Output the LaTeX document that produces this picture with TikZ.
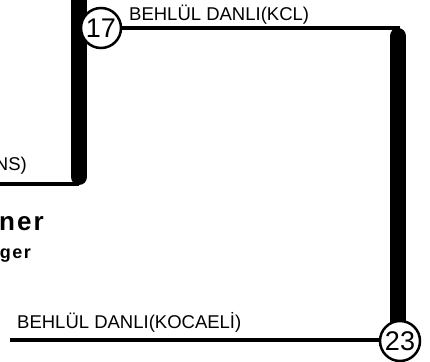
\documentclass[tikz,border=0pt]{standalone}
\usepackage{fontspec}
\setmainfont{Liberation Sans}
\newfontfamily\brandfont[LetterSpace=8]{Liberation Sans}
\usetikzlibrary{positioning,backgrounds}
\pgfdeclareradialshading{seedball}{\pgfpoint{-10bp}{10bp}}{color(0bp)=(white); color(30bp)=(white); color(44bp)=(black!28); color(50bp)=(black!60)}

\begin{document}
\begin{tikzpicture}[x=1pt, y=-1pt,
    seed/.style={draw, circle, line width=2.5pt, minimum size=40pt, inner sep=0pt, shade, shading=seedball, font=\fontsize{27}{27}\selectfont},
    player/.style={inner sep=0pt, font=\fontsize{18.5}{20}\selectfont},
    link/.style={line width=3.5pt},
    bar/.style={line width=16pt, line cap=round}
  ]
    \useasboundingbox (0,0) rectangle (430,361);

    % Seeds
    \node[seed] (s17) at (101,28)  {17};
    \node[seed] (s23) at (400,341) {23};

    % Bracket corners
    \coordinate (ltop) at (79,-20);
    \coordinate (lbot) at (79,177);
    \coordinate (lend) at (-5,184);
    \coordinate (rtop) at (398,36);
    \coordinate (rbot) at (398,330);
    \coordinate (bend) at (10,340);

    \begin{scope}[on background layer]
      % left bracket
      \draw[bar] (ltop) -- (lbot);
      \draw[link] (lend) -- (lend -| lbot);
      % top to right bracket
      \draw[link] (s17.center) -- (s17.center -| rtop) -- (rtop);
      \draw[bar] (rtop) -- (rbot);
      % bottom line
      \draw[link] (bend) -- (bend -| s23.center);
    \end{scope}

    % Names
    \node[player, anchor=base west] (kcl) at (129,21)  {BEHLÜL DANLI(KCL)};
    \node[player, anchor=base east] (ns)  at (27,170)  {NS)};
    \node[player, anchor=base west] (koc) at (17,328)  {BEHLÜL DANLI(KOCAELİ)};

    % Logo
    \node[inner sep=0pt, anchor=base east, font=\brandfont\bfseries\fontsize{26}{26}\selectfont] (ner) at (44,230) {ner};
    \node[inner sep=0pt, anchor=base east, font=\brandfont\bfseries\fontsize{18}{18}\selectfont] (ger) at (31,258) {ger};
  \end{tikzpicture}
\end{document}
